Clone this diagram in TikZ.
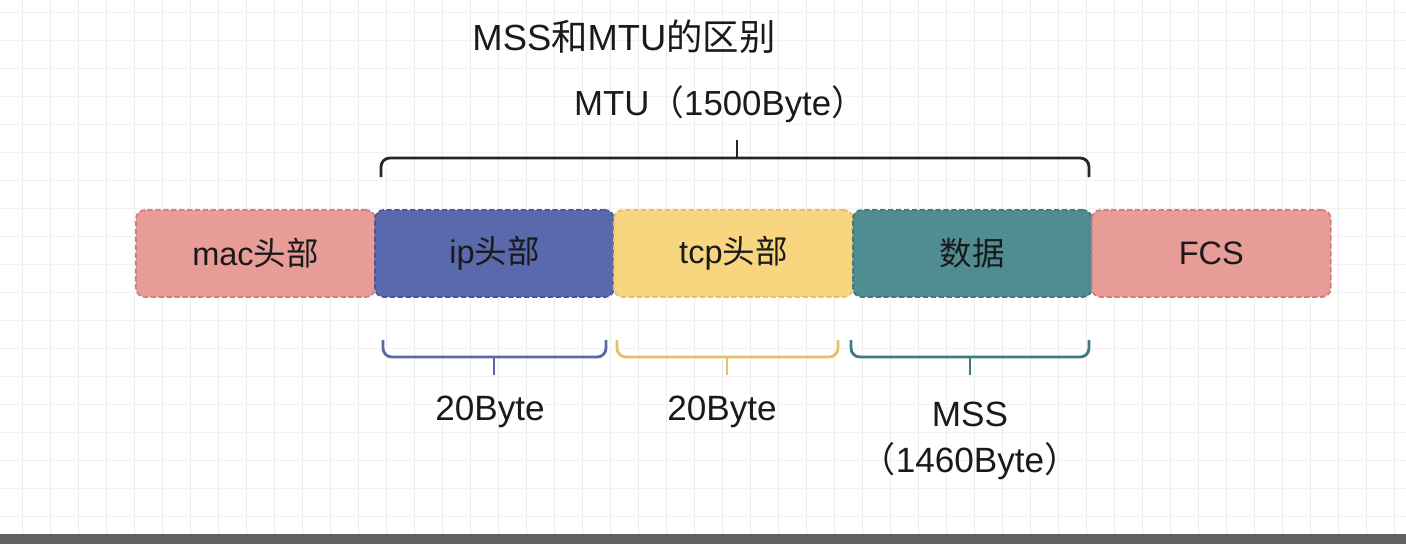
\documentclass[tikz,border=0pt]{standalone}
\usepackage{fontspec}
\setmainfont{Liberation Sans}
\newfontfamily\cjk{Noto Sans CJK SC}
\usepackage{tikz}
\usetikzlibrary{positioning, calc}

\definecolor{macpink}{HTML}{E89C98}
\definecolor{macedge}{HTML}{D0807C}
\definecolor{ipblue}{HTML}{5A69AC}
\definecolor{ipedge}{HTML}{48579A}
\definecolor{tcpyellow}{HTML}{F7D67F}
\definecolor{tcpedge}{HTML}{E3C06A}
\definecolor{datateal}{HTML}{4F8D93}
\definecolor{dataedge}{HTML}{3F7A80}
\definecolor{txt}{HTML}{1A1A1A}

\begin{document}
\begin{tikzpicture}[
        x=0.02cm, y=-0.02cm,
        field/.style={rectangle, rounded corners=5pt, dashed, dash pattern=on 3pt off 1.5pt,
            line width=1pt, minimum width=4.78cm, minimum height=1.74cm,
            inner sep=0pt, font=\fontsize{18.5}{22}\selectfont, text=txt},
        lbl/.style={font=\fontsize{20}{26.5}\selectfont, text=txt},
        brace/.style={line width=1.6pt, rounded corners=5pt},
    ]
    \useasboundingbox (0,0) rectangle (1406,544);

    %% ---- background grid ----
    \foreach \gx in {22,50,...,1406} {
        \draw[black!7, line width=0.4pt] (\gx,0) -- (\gx,534);
    }
    \foreach \gy in {12,40,...,534} {
        \draw[black!5, line width=0.4pt] (0,\gy) -- (1406,\gy);
    }
    \fill[black!62] (0,534) rectangle (1406,544);

    %% ---- titles ----
    \node[lbl, font=\fontsize{20.7}{25}\selectfont] (title) at (624, 37) {MSS{\cjk 和}MTU{\cjk 的区别}};
    \node[lbl, font=\fontsize{19.8}{24}\selectfont] (mtu) at (720, 104) {MTU{\cjk （}1500Byte{\cjk ）}};

    %% ---- frame fields ----
    \node[field, fill=macpink, draw=macedge] (mac) at (255.5, 253.5) {mac{\cjk 头部}};
    \node[field, fill=ipblue, draw=ipedge, right=-1pt of mac] (ip) {ip{\cjk 头部}};
    \node[field, fill=tcpyellow, draw=tcpedge, right=-1pt of ip] (tcp) {tcp{\cjk 头部}};
    \node[field, fill=datateal, draw=dataedge, right=-1pt of tcp] (data) {\cjk 数据};
    \node[field, fill=macpink, draw=macedge, right=-1pt of data] (fcs) {FCS};

    %% ---- MTU brace (top) ----
    \draw[brace, black!85] (381,177) |- (1089,158) -- (1089,177);
    \draw[brace, black!85, rounded corners=0pt] (737,158) -- (737,140);

    %% ---- lower braces ----
    \draw[brace, ipedge!90] (383,340) |- (606,357) -- (606,340);
    \draw[brace, ipedge!90, rounded corners=0pt] (494,357) -- (494,375);
    \draw[brace, tcpedge] (617,340) |- (838,357) -- (838,340);
    \draw[brace, tcpedge, rounded corners=0pt] (727,357) -- (727,375);
    \draw[brace, dataedge] (851,340) |- (1089,357) -- (1089,340);
    \draw[brace, dataedge, rounded corners=0pt] (970,357) -- (970,375);

    %% ---- sizes ----
    \node[lbl] (ipsize) at (490, 412) {20Byte};
    \node[lbl] (tcpsize) at (722, 412) {20Byte};
    \node[lbl, align=center] (mss) at (970, 441) {MSS\\{\cjk （}1460Byte{\cjk ）}};

\end{tikzpicture}
\end{document}
